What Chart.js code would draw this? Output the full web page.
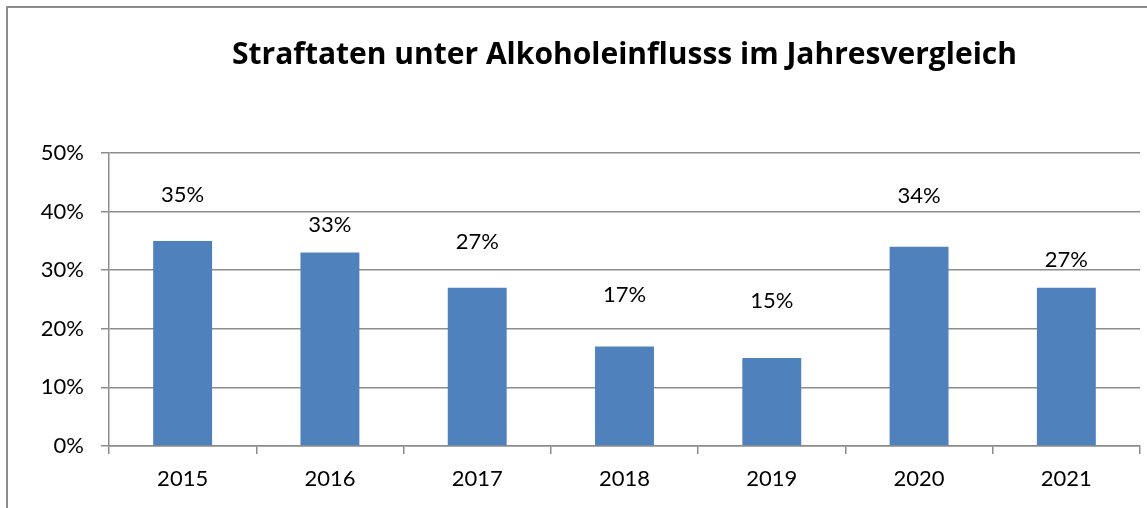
<!DOCTYPE html>
<html>
<head>
<meta charset="utf-8">
<script src="https://cdn.jsdelivr.net/npm/chart.js@4"></script>
<style>
  html, body { margin: 0; padding: 0; background: #fff; overflow: hidden; }
  body { width: 1147px; height: 508px; position: relative; }
  #frame {
    position: absolute; left: 6px; top: 6px;
    width: 1300px; height: 600px;
    border-left: 2px solid #8c8c8c; border-top: 2px solid #8c8c8c;
  }
  #chart { position: absolute; left: 0; top: 0; }
</style>
</head>
<body>
<div id="frame"><canvas id="chart" width="1252" height="500"></canvas></div>
<script>
// ----------------------------
// DATA
// ----------------------------
const years = ["2015", "2016", "2017", "2018", "2019", "2020", "2021"];
const shares = [35, 33, 27, 17, 15, 34, 27];
// where the value labels sit (in % units, as in the original)
const labelLevels = [42.9, 37.7, 34.8, 25.7, 24.8, 42.7, 31.7];
const yTicks = [0, 10, 20, 30, 40, 50];

const FONT = "Lato, 'Open Sans', sans-serif";
const TITLE_FONT = "'Open Sans', Lato, sans-serif";

// ----------------------------
// VALUE LABELS
// ----------------------------
const valueLabels = {
  id: "valueLabels",
  afterDatasetsDraw(chart) {
    const { ctx, scales: { x, y } } = chart;
    ctx.save();
    ctx.font = `22px ${FONT}`;
    ctx.fillStyle = "#000";
    ctx.textAlign = "center";
    ctx.textBaseline = "middle";
    shares.forEach((v, i) => {
      ctx.fillText(v + "%", x.getPixelForValue(i), y.getPixelForValue(labelLevels[i]));
    });
    ctx.restore();
  }
};

new Chart(document.getElementById("chart"), {
  type: "bar",
  data: {
    labels: years,
    datasets: [{
      data: shares,
      backgroundColor: "#4f81bd",
      borderWidth: 0,
      barPercentage: 0.4,
      categoryPercentage: 1
    }]
  },
  plugins: [valueLabels],
  options: {
    responsive: false,
    devicePixelRatio: 1,
    animation: false,
    layout: { padding: { left: 0, right: 120, top: 0, bottom: 0 } },
    plugins: {
      legend: { display: false },
      tooltip: { enabled: false },
      title: {
        display: true,
        fullSize: false,
        text: "Straftaten unter Alkoholeinflusss im Jahresvergleich",
        color: "#000",
        font: { family: TITLE_FONT, size: 30, weight: "bold", lineHeight: 1.2 },
        padding: { top: 29, bottom: 80 }
      }
    },
    scales: {
      x: {
        offset: true,
        grid: {
          offset: true,
          drawOnChartArea: false,
          drawTicks: true,
          tickLength: 8,
          color: "#8c8c8c",
          lineWidth: 1.5
        },
        border: { color: "#8c8c8c", width: 1.5 },
        ticks: {
          color: "#000",
          padding: 12,
          font: { family: FONT, size: 22 }
        },
        afterFit(scale) { scale.height = 62; }
      },
      y: {
        min: 0,
        max: 50,
        afterBuildTicks(scale) { scale.ticks = yTicks.map(v => ({ value: v })); },
        grid: {
          color: "#8c8c8c",
          lineWidth: 1.5,
          tickLength: 8
        },
        border: { color: "#8c8c8c", width: 1.5 },
        ticks: {
          color: "#000",
          padding: 17,
          font: { family: FONT, size: 22 },
          callback: v => v + "%"
        },
        afterFit(scale) { scale.width = 101; }
      }
    }
  }
});
</script>
</body>
</html>
